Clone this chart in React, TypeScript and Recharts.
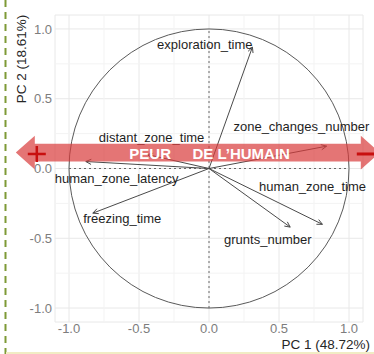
import {
  ScatterChart,
  Scatter,
  XAxis,
  YAxis,
  CartesianGrid,
  ReferenceLine,
  ReferenceArea,
  ReferenceDot,
  Label,
} from "recharts";

// loadings
const variables = [
  "exploration_time",
  "zone_changes_number",
  "distant_zone_time",
  "human_zone_latency",
  "freezing_time",
  "human_zone_time",
  "grunts_number",
];
const pc1 = [0.31, 0.84, -0.44, -0.88, -0.83, 0.81, 0.58];
const pc2 = [0.87, 0.16, 0.1, 0.05, -0.32, -0.4, -0.42];

// where each variable name sits
const labelPc1 = [-0.03, 0.66, -0.41, -0.66, -0.62, 0.74, 0.42];
const labelPc2 = [0.89, 0.3, 0.22, -0.07, -0.36, -0.13, -0.51];

const axisTicks = [-1, -0.5, 0, 0.5, 1];
const minorTicks = [-0.75, -0.25, 0.25, 0.75];
const axisDomain = [-1.1, 1.1];
const xTitle = "PC 1 (48.72%)";
const yTitle = "PC 2 (18.61%)";

// red "fear of humans" band
const bandWords = ["PEUR", "DE L\u2019HUMAIN"];
const bandWordPc1 = [-0.42, 0.23];
const bandWordPc2 = 0.106;
const bandFrom = -1.38;
const bandTo = 1.22;
const bandBottom = 0.05;
const bandTop = 0.178;

const loadings = variables.map((name, i) => ({ name, x: pc1[i], y: pc2[i] }));
const labels = variables.map((name, i) => ({
  name,
  x: labelPc1[i],
  y: labelPc2[i],
}));

const FONT = "'Liberation Sans', Arial, sans-serif";
const RED = "#c80f0f";

function ArrowShape(props: any) {
  const { x1, y1, x2, y2 } = props;
  const a = Math.atan2(y2 - y1, x2 - x1);
  const len = 6;
  const spread = Math.PI / 7;
  const ax = x2 - len * Math.cos(a - spread);
  const ay = y2 - len * Math.sin(a - spread);
  const bx = x2 - len * Math.cos(a + spread);
  const by = y2 - len * Math.sin(a + spread);
  return (
    <g>
      <line x1={x1} y1={y1} x2={x2} y2={y2} stroke="#4a4a4a" strokeWidth={1} />
      <polyline
        points={`${ax},${ay} ${x2},${y2} ${bx},${by}`}
        fill="none"
        stroke="#4a4a4a"
        strokeWidth={1}
      />
    </g>
  );
}

function CircleShape(props: any) {
  const { x, y, width, height } = props;
  return (
    <ellipse
      cx={x + width / 2}
      cy={y + height / 2}
      rx={width / 2}
      ry={height / 2}
      fill="none"
      stroke="#5a5a5a"
      strokeWidth={1}
    />
  );
}

function BandShape(props: any) {
  const { x, y, width, height } = props;
  const head = 19;
  const flare = 8;
  const mid = y + height / 2;
  const pts = [
    [x, mid],
    [x + head, y - flare],
    [x + head, y],
    [x + width - head, y],
    [x + width - head, y - flare],
    [x + width, mid],
    [x + width - head, y + height + flare],
    [x + width - head, y + height],
    [x + head, y + height],
    [x + head, y + height + flare],
  ]
    .map((p) => p.join(","))
    .join(" ");
  return <polygon points={pts} fill="#d93a3a" fillOpacity={0.7} />;
}

function LabelShape(props: any) {
  const { cx, cy, payload } = props;
  return (
    <text
      x={cx}
      y={cy}
      textAnchor="middle"
      dominantBaseline="central"
      fontSize={13}
      fill="#1e1e1e"
      fontFamily={FONT}
    >
      {payload.name}
    </text>
  );
}

export default function App() {
  return (
    <div
      style={{
        position: "absolute",
        left: 0,
        top: 0,
        width: 374,
        height: 354,
        background: "#fff",
        fontFamily: FONT,
      }}
    >
      <ScatterChart
        width={374}
        height={354}
        margin={{ top: 15, right: 11, bottom: 0, left: 0 }}
      >
        <CartesianGrid stroke="#e8e8e8" strokeWidth={1} />
        <XAxis
          type="number"
          dataKey="x"
          domain={axisDomain}
          ticks={axisTicks}
          tickFormatter={(v: number) => v.toFixed(1)}
          tickLine={false}
          axisLine={false}
          tickSize={0}
          tickMargin={2}
          height={32}
          tick={{ fill: "#7d7d7d", fontSize: 13, fontFamily: FONT }}
        >
          <Label
            content={(p: any) => {
              const vb = p.viewBox || {};
              return (
                <text
                  x={vb.x + vb.width + 7}
                  y={vb.y + 22}
                  textAnchor="end"
                  dominantBaseline="central"
                  fontSize={13.5}
                  fill="#262626"
                  fontFamily={FONT}
                >
                  {xTitle}
                </text>
              );
            }}
          />
        </XAxis>
        <YAxis
          type="number"
          dataKey="y"
          domain={axisDomain}
          ticks={axisTicks}
          tickFormatter={(v: number) => v.toFixed(1)}
          tickLine={false}
          axisLine={false}
          tickSize={0}
          tickMargin={3}
          width={55}
          tick={{ fill: "#7d7d7d", fontSize: 13, fontFamily: FONT }}
        >
          <Label
            content={(p: any) => {
              const vb = p.viewBox || {};
              const cx = vb.x + 21;
              const cy = vb.y + 44;
              return (
                <text
                  x={cx}
                  y={cy}
                  transform={`rotate(-90 ${cx} ${cy})`}
                  textAnchor="middle"
                  dominantBaseline="central"
                  fontSize={13.5}
                  fill="#262626"
                  fontFamily={FONT}
                >
                  {yTitle}
                </text>
              );
            }}
          />
        </YAxis>

        {minorTicks.map((t) => (
          <ReferenceLine key={"vx" + t} x={t} stroke="#f3f3f3" zIndex={-50} />
        ))}
        {minorTicks.map((t) => (
          <ReferenceLine key={"hy" + t} y={t} stroke="#f3f3f3" zIndex={-50} />
        ))}

        <ReferenceLine
          segment={[
            { x: 0, y: -1 },
            { x: 0, y: 1 },
          ]}
          stroke="#666"
          strokeDasharray="2 3"
          zIndex={-10}
        />
        <ReferenceLine
          segment={[
            { x: -1, y: 0 },
            { x: 1, y: 0 },
          ]}
          stroke="#666"
          strokeDasharray="2 3"
          zIndex={-10}
        />

        <ReferenceArea
          x1={-1}
          x2={1}
          y1={-1}
          y2={1}
          shape={CircleShape}
          zIndex={-5}
        />

        {loadings.map((d) => (
          <ReferenceLine
            key={d.name}
            segment={[
              { x: 0, y: 0 },
              { x: d.x, y: d.y },
            ]}
            shape={ArrowShape}
            zIndex={0}
          />
        ))}

        <Scatter
          data={labels}
          shape={LabelShape}
          isAnimationActive={false}
        />

        <ReferenceArea
          x1={bandFrom}
          x2={bandTo}
          y1={bandBottom}
          y2={bandTop}
          ifOverflow="visible"
          shape={BandShape}
          zIndex={1500}
        />

        {bandWords.map((w, i) => (
          <ReferenceDot
            key={w}
            x={bandWordPc1[i]}
            y={bandWordPc2}
            r={0}
            ifOverflow="visible"
            zIndex={1600}
            shape={(p: any) => (
              <text
                x={p.cx}
                y={p.cy}
                textAnchor="middle"
                dominantBaseline="central"
                fontSize={15}
                fontWeight="bold"
                fill="#fff"
                fontFamily={FONT}
              >
                {w}
              </text>
            )}
          />
        ))}

        <ReferenceDot
          x={-1.23}
          y={0.104}
          r={0}
          ifOverflow="visible"
          zIndex={1600}
          shape={(p: any) => (
            <g stroke={RED} strokeWidth={2.5}>
              <line x1={p.cx - 9} y1={p.cy} x2={p.cx + 9} y2={p.cy} />
              <line x1={p.cx} y1={p.cy - 8} x2={p.cx} y2={p.cy + 8} />
            </g>
          )}
        />
        <ReferenceDot
          x={1.12}
          y={0.104}
          r={0}
          ifOverflow="visible"
          zIndex={1600}
          shape={(p: any) => (
            <line
              x1={p.cx - 9}
              y1={p.cy}
              x2={p.cx + 10}
              y2={p.cy}
              stroke={RED}
              strokeWidth={3}
            />
          )}
        />
      </ScatterChart>

      {/* dashed page border on the left, pale rule at the bottom */}
      <svg
        width={374}
        height={354}
        style={{ position: "absolute", left: 0, top: 0, pointerEvents: "none" }}
      >
        <line
          x1={5.5}
          y1={0}
          x2={5.5}
          y2={354}
          stroke="#7e9a36"
          strokeWidth={2}
          strokeDasharray="7 5"
        />
        <line x1={6} y1={353} x2={374} y2={353} stroke="#f1ecc4" strokeWidth={2} />
      </svg>
    </div>
  );
}
